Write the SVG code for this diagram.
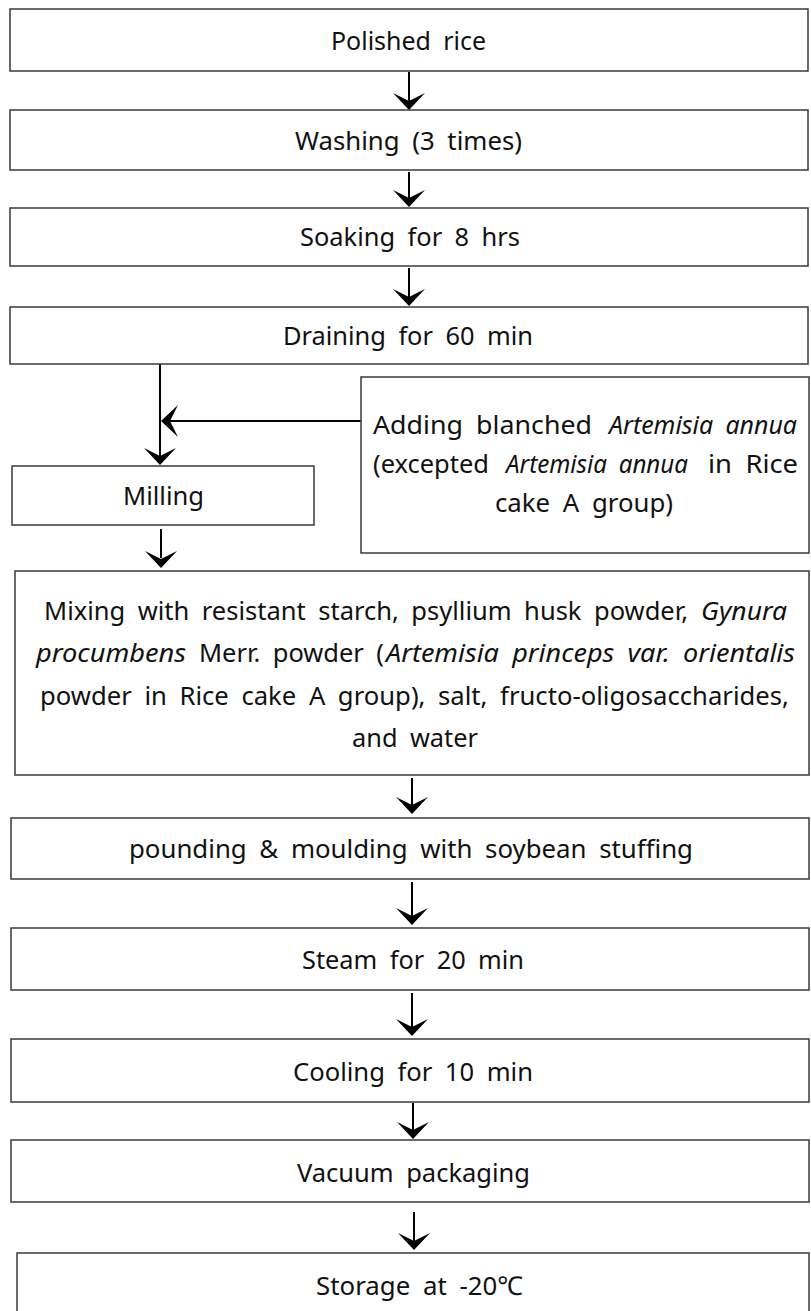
<svg xmlns="http://www.w3.org/2000/svg" xmlns:xlink="http://www.w3.org/1999/xlink" width="811" height="1311" viewBox="0 0 811 1311">
<style>
.box{fill:#fff;stroke:#3a3a3a;stroke-width:1.5}
.t{font-family:"Noto Sans","Open Sans","Liberation Sans",sans-serif;font-size:26px;fill:#111;word-spacing:6px}
.i{font-style:italic}
.ln{stroke:#000;stroke-width:2;fill:none}
</style>
<defs>
<path id="ah" d="M0,0 L-16,-17 L0,-9 L16,-17 Z" fill="#000"/>
</defs>
<rect width="811" height="1311" fill="#fff"/>
<g id="connectors">
<line class="ln" x1="409" y1="72" x2="409" y2="101"/><use xlink:href="#ah" transform="translate(409,110)"/>
<line class="ln" x1="409" y1="172" x2="409" y2="198"/><use xlink:href="#ah" transform="translate(409,207)"/>
<line class="ln" x1="409" y1="268" x2="409" y2="297"/><use xlink:href="#ah" transform="translate(409,306)"/>
<line class="ln" x1="160" y1="364" x2="160" y2="456"/><use xlink:href="#ah" transform="translate(160,465)"/>
<line class="ln" x1="361" y1="421" x2="170" y2="421"/><use xlink:href="#ah" transform="translate(161,421) rotate(90)"/>
<line class="ln" x1="161" y1="529" x2="161" y2="558"/><use xlink:href="#ah" transform="translate(161,568)"/>
<line class="ln" x1="412" y1="778" x2="412" y2="805"/><use xlink:href="#ah" transform="translate(412,814)"/>
<line class="ln" x1="412" y1="882" x2="412" y2="916"/><use xlink:href="#ah" transform="translate(412,925)"/>
<line class="ln" x1="412" y1="993" x2="412" y2="1027"/><use xlink:href="#ah" transform="translate(412,1036)"/>
<line class="ln" x1="413" y1="1103" x2="413" y2="1130"/><use xlink:href="#ah" transform="translate(413,1139)"/>
<line class="ln" x1="414" y1="1212" x2="414" y2="1241"/><use xlink:href="#ah" transform="translate(414,1250)"/>
</g>
<g id="n1"><rect class="box" x="10" y="9" width="798" height="62"/><text class="t" x="331" y="50" textLength="155" lengthAdjust="spacingAndGlyphs">Polished rice</text></g>
<g id="n2"><rect class="box" x="10" y="110" width="798" height="60"/><text class="t" x="295" y="150" textLength="227" lengthAdjust="spacingAndGlyphs">Washing (3 times)</text></g>
<g id="n3"><rect class="box" x="10" y="208" width="798" height="58"/><text class="t" x="300" y="246" textLength="220" lengthAdjust="spacingAndGlyphs">Soaking for 8 hrs</text></g>
<g id="n4"><rect class="box" x="10" y="307" width="798" height="57"/><text class="t" x="283" y="345" textLength="250" lengthAdjust="spacingAndGlyphs">Draining for 60 min</text></g>
<g id="n5"><rect class="box" x="361" y="377" width="448" height="176"/>
<text class="t" x="373" y="434" textLength="219" lengthAdjust="spacingAndGlyphs">Adding blanched</text>
<text class="t i" x="609" y="434" textLength="188" lengthAdjust="spacingAndGlyphs">Artemisia annua</text>
<text class="t" x="373" y="473" textLength="116" lengthAdjust="spacingAndGlyphs">(excepted</text>
<text class="t i" x="506" y="473" textLength="182" lengthAdjust="spacingAndGlyphs">Artemisia annua</text>
<text class="t" x="708" y="473" textLength="90" lengthAdjust="spacingAndGlyphs">in Rice</text>
<text class="t" x="495" y="512" textLength="178" lengthAdjust="spacingAndGlyphs">cake A group)</text></g>
<g id="n6"><rect class="box" x="12" y="466" width="302" height="59"/><text class="t" x="123" y="505" textLength="81" lengthAdjust="spacingAndGlyphs">Milling</text></g>
<g id="n7"><rect class="box" x="15" y="571" width="794" height="204"/>
<text class="t" x="44" y="620" textLength="644" lengthAdjust="spacingAndGlyphs">Mixing with resistant starch, psyllium husk powder,</text>
<text class="t i" x="701" y="620" textLength="86" lengthAdjust="spacingAndGlyphs">Gynura</text>
<text class="t i" x="36" y="662" textLength="150" lengthAdjust="spacingAndGlyphs">procumbens</text>
<text class="t" x="199" y="662" textLength="185" lengthAdjust="spacingAndGlyphs">Merr. powder (</text>
<text class="t i" x="386" y="662" textLength="409" lengthAdjust="spacingAndGlyphs">Artemisia princeps var. orientalis</text>
<text class="t" x="40" y="705" textLength="749" lengthAdjust="spacingAndGlyphs">powder in Rice cake A group), salt, fructo-oligosaccharides,</text>
<text class="t" x="352" y="747" textLength="126" lengthAdjust="spacingAndGlyphs">and water</text></g>
<g id="n8"><rect class="box" x="11" y="818" width="798" height="61"/><text class="t" x="129" y="858" textLength="564" lengthAdjust="spacingAndGlyphs">pounding &amp; moulding with soybean stuffing</text></g>
<g id="n9"><rect class="box" x="11" y="928" width="798" height="62"/><text class="t" x="302" y="969" textLength="222" lengthAdjust="spacingAndGlyphs">Steam for 20 min</text></g>
<g id="n10"><rect class="box" x="11" y="1039" width="798" height="63"/><text class="t" x="293" y="1081" textLength="240" lengthAdjust="spacingAndGlyphs">Cooling for 10 min</text></g>
<g id="n11"><rect class="box" x="11" y="1140" width="798" height="62"/><text class="t" x="297" y="1182" textLength="233" lengthAdjust="spacingAndGlyphs">Vacuum packaging</text></g>
<g id="n12"><rect class="box" x="17" y="1253" width="792" height="80"/><text class="t" x="316" y="1295" textLength="207" lengthAdjust="spacingAndGlyphs">Storage at -20℃</text></g>
</svg>
